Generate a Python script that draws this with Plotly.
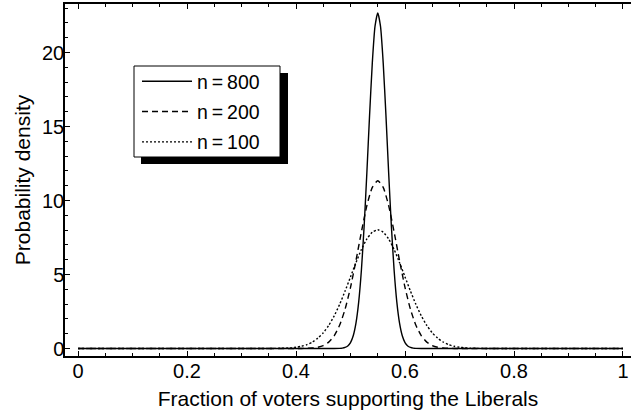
import plotly.graph_objects as go

# ---- data ----
x_n800 = [0.0, 0.45, 0.47, 0.48, 0.485, 0.49, 0.495, 0.50, 0.505, 0.51, 0.515, 0.52,
          0.525, 0.53, 0.535, 0.54, 0.545, 0.55, 0.555, 0.56, 0.565, 0.57, 0.575,
          0.58, 0.585, 0.59, 0.595, 0.60, 0.605, 0.61, 0.615, 0.62, 0.63, 0.65, 1.0]
y_n800 = [0, 0, 0.001, 0.008, 0.025, 0.07, 0.17, 0.40, 0.86, 1.71, 3.13, 5.30,
          8.26, 11.88, 15.77, 19.30, 21.78, 22.68, 21.78, 19.30, 15.77, 11.88, 8.26,
          5.30, 3.13, 1.71, 0.86, 0.40, 0.17, 0.07, 0.025, 0.008, 0.001, 0, 0]

x_n200 = [0.0, 0.38, 0.40, 0.41, 0.42, 0.43, 0.44, 0.45, 0.46, 0.47, 0.48, 0.49,
          0.50, 0.51, 0.52, 0.53, 0.54, 0.55, 0.56, 0.57, 0.58, 0.59, 0.60, 0.61,
          0.62, 0.63, 0.64, 0.65, 0.66, 0.67, 0.68, 0.69, 0.70, 0.72, 1.0]
y_n200 = [0, 0, 0.001, 0.004, 0.012, 0.034, 0.085, 0.20, 0.43, 0.86, 1.57, 2.65,
          4.13, 5.94, 7.88, 9.65, 10.89, 11.34, 10.89, 9.65, 7.88, 5.94, 4.13, 2.65,
          1.57, 0.86, 0.43, 0.20, 0.085, 0.034, 0.012, 0.004, 0.001, 0, 0]

x_n100 = [0.0, 0.32, 0.35, 0.36, 0.37, 0.38, 0.39, 0.40, 0.41, 0.42, 0.43, 0.44,
          0.45, 0.46, 0.47, 0.48, 0.49, 0.50, 0.51, 0.52, 0.53, 0.54, 0.55, 0.56,
          0.57, 0.58, 0.59, 0.60, 0.61, 0.62, 0.63, 0.64, 0.65, 0.66, 0.67, 0.68,
          0.69, 0.70, 0.71, 0.72, 0.73, 0.74, 0.75, 0.78, 1.0]
y_n100 = [0, 0, 0.003, 0.006, 0.012, 0.023, 0.045, 0.085, 0.15, 0.26, 0.44, 0.70,
          1.06, 1.56, 2.20, 2.98, 3.88, 4.84, 5.80, 6.69, 7.40, 7.86, 8.02, 7.86,
          7.40, 6.69, 5.80, 4.84, 3.88, 2.98, 2.20, 1.56, 1.06, 0.70, 0.44, 0.26,
          0.15, 0.085, 0.045, 0.023, 0.012, 0.006, 0.003, 0, 0]

series_names = ["n\u2009=\u2009800", "n\u2009=\u2009200", "n\u2009=\u2009100"]
x_ticks = [0, 0.2, 0.4, 0.6, 0.8, 1]
x_tick_labels = ["0", "0.2", "0.4", "0.6", "0.8", "1"]
y_ticks = [0, 5, 10, 15, 20]
x_title = "Fraction of voters supporting the Liberals"
y_title = "Probability density"

FONT = "Liberation Sans, Arial, Helvetica, sans-serif"
INK = "#000000"

fig = go.Figure()
styles = [dict(dash="solid"), dict(dash="6px,4px"), dict(dash="2px,2px")]
for i, (xs, ys) in enumerate([(x_n800, y_n800), (x_n200, y_n200), (x_n100, y_n100)]):
    fig.add_trace(go.Scatter(
        x=xs, y=ys, mode="lines", name=series_names[i], legendgroup=f"g{i}",
        line=dict(color=INK, width=1.4, shape="spline", smoothing=0.6, **styles[i]),
        hoverinfo="skip",
    ))

W, H = 631, 415
ML, MR, MT, MB = 65, 0, 4, 59
pw, ph = W - ML - MR, H - MT - MB

def px_to_paper_x(px):
    return (px - ML) / pw

def px_to_paper_y(py):
    return (H - MB - py) / ph

# legend drop shadow and frame
fig.add_shape(type="rect", xref="paper", yref="paper",
              x0=px_to_paper_x(141), x1=px_to_paper_x(288),
              y0=px_to_paper_y(164), y1=px_to_paper_y(73),
              fillcolor=INK, line=dict(width=0), layer="above")
fig.add_shape(type="rect", xref="paper", yref="paper",
              x0=px_to_paper_x(134), x1=px_to_paper_x(280),
              y0=px_to_paper_y(157), y1=px_to_paper_y(66),
              fillcolor="white", line=dict(width=1, color=INK), layer="above")

fig.update_layout(
    width=W, height=H,
    margin=dict(l=ML, r=MR, t=MT, b=MB, pad=0, autoexpand=False),
    paper_bgcolor="white", plot_bgcolor="white",
    font=dict(family=FONT, size=20, color=INK),
    showlegend=True,
    legend=dict(
        x=px_to_paper_x(137), y=px_to_paper_y(62), xanchor="left", yanchor="top",
        bgcolor="rgba(0,0,0,0)", borderwidth=0,
        font=dict(family=FONT, size=19.5, color=INK),
        tracegroupgap=2, itemwidth=50,
    ),
    xaxis=dict(
        range=[-0.0239, 1.0147], tickvals=x_ticks, ticktext=x_tick_labels,
        ticks="inside", ticklen=5, tickwidth=1, tickcolor=INK,
        showline=True, linecolor=INK, linewidth=1.5, mirror="ticks",
        showgrid=False, zeroline=False, automargin=False,
        minor=dict(dtick=0.05, tick0=0, ticks="inside", ticklen=3, tickcolor=INK, showgrid=False),
        tickfont=dict(size=20), ticklabelstandoff=-4,
        title=dict(text=x_title, font=dict(size=21), standoff=11),
    ),
    yaxis=dict(
        range=[-0.507, 23.28], tickvals=y_ticks, ticksuffix="\u00a0",
        ticks="inside", ticklen=5, tickwidth=1, tickcolor=INK,
        showline=True, linecolor=INK, linewidth=1.5, mirror=False,
        showgrid=False, zeroline=False, automargin=False,
        minor=dict(dtick=1, tick0=0, ticks="inside", ticklen=3, tickcolor=INK, showgrid=False),
        tickfont=dict(size=20), ticklabelstandoff=-5,
        title=dict(text=y_title, font=dict(size=21), standoff=6),
    ),
)

fig.write_html("out.html", config={"displayModeBar": False},
               post_script="document.body.style.margin='0';")
